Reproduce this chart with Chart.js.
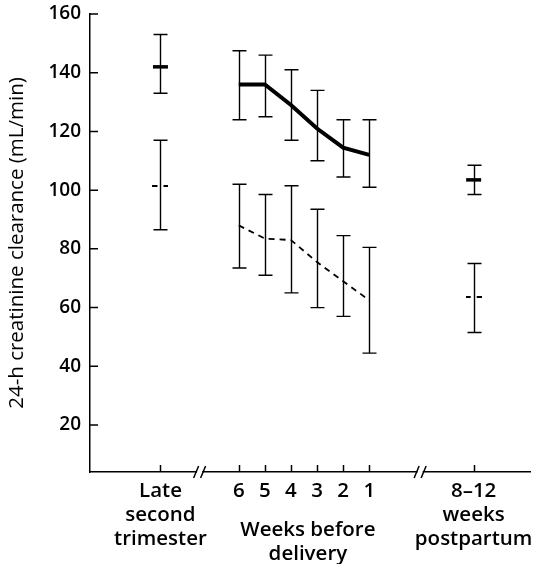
<!DOCTYPE html>
<html>
<head>
<meta charset="utf-8">
<title>24-h creatinine clearance</title>
<script src="https://cdn.jsdelivr.net/npm/chart.js@4.4.1/dist/chart.umd.min.js"></script>
<style>
  html, body { margin: 0; padding: 0; background: #fff; }
  #wrap { width: 541px; height: 564px; }
</style>
</head>
<body>
<div id="wrap"><canvas id="chart" width="541" height="564"></canvas></div>
<script>
// stages along the broken time axis
const stages = [['Late', 'second', 'trimester'], '6', '5', '4', '3', '2', '1', ['8–12', 'weeks', 'postpartum']]
const stageX = [0, 3, 4, 5, 6, 7, 8, 12]
const weeksTitle = ['Weeks before', 'delivery']
const yTicks = [20, 40, 60, 80, 100, 120, 140, 160]
const axisBreaks = [1.5, 9.95]

// upper group (solid line): mean, top and bottom of error bar
const meanSolid = [142, 136, 136, 129, 121, 114.5, 112, 103.5]
const highSolid = [153, 147.5, 146, 141, 134, 124, 124, 108.5]
const lowSolid = [133, 124, 125, 117, 110, 104.5, 101, 98.5]

// lower group (dashed line)
const meanDashed = [101.5, 88, 83.5, 83, 75.5, 69, 62.5, 63.5]
const highDashed = [117, 102, 98.5, 101.5, 93.5, 84.5, 80.5, 75]
const lowDashed = [86.5, 73.5, 71, 65, 60, 57, 44.5, 51.5]

const inner = [1, 2, 3, 4, 5, 6]   // weeks before delivery, joined by a line
const outer = [0, 7]               // isolated stages
const pts = (idx, arr) => idx.map(i => ({ x: stageX[i], y: arr[i] }))

const FONT = '"Open Sans", "Noto Sans", sans-serif'
Chart.defaults.font.family = FONT
Chart.defaults.color = '#000'

// short broken mean mark for the lower group
function dashMark() {
  const c = document.createElement('canvas')
  c.width = 16
  c.height = 2
  const g = c.getContext('2d')
  g.fillStyle = '#000'
  g.fillRect(0, 0, 5, 2)
  g.fillRect(11, 0, 5, 2)
  return c
}

const decor = {
  id: 'decor',
  afterDatasetsDraw(chart) {
    const { ctx, scales: { x, y } } = chart
    ctx.save()
    ctx.strokeStyle = '#000'
    ctx.lineWidth = 1.4
    for (const [lo, hi] of [[lowSolid, highSolid], [lowDashed, highDashed]]) {
      stageX.forEach((v, i) => {
        const px = Math.round(x.getPixelForValue(v)) + 0.5
        const top = y.getPixelForValue(hi[i])
        const bot = y.getPixelForValue(lo[i])
        ctx.beginPath()
        ctx.moveTo(px, top); ctx.lineTo(px, bot)
        ctx.moveTo(px - 7, top); ctx.lineTo(px + 7, top)
        ctx.moveTo(px - 7, bot); ctx.lineTo(px + 7, bot)
        ctx.stroke()
      })
    }
    ctx.restore()
  },
  afterDraw(chart) {
    const { ctx, scales: { x, y }, chartArea: a } = chart
    ctx.save()
    ctx.strokeStyle = '#000'
    ctx.lineWidth = 1.5
    // inward ticks
    ctx.beginPath()
    for (const v of yTicks) {
      const py = y.getPixelForValue(v)
      ctx.moveTo(a.left, py); ctx.lineTo(a.left + 8, py)
    }
    for (const v of stageX) {
      const px = Math.round(x.getPixelForValue(v)) + 0.5
      ctx.moveTo(px, a.bottom); ctx.lineTo(px, a.bottom - 7)
    }
    ctx.stroke()
    // axis breaks
    for (const b of axisBreaks) {
      const px = x.getPixelForValue(b)
      ctx.fillStyle = '#fff'
      ctx.fillRect(px - 2.5, a.bottom - 2, 5, 4)
      ctx.beginPath()
      ctx.moveTo(px - 6, a.bottom + 6); ctx.lineTo(px - 1, a.bottom - 6)
      ctx.moveTo(px + 1, a.bottom + 6); ctx.lineTo(px + 6, a.bottom - 6)
      ctx.stroke()
    }
    // group label under the weeks
    ctx.fillStyle = '#000'
    ctx.font = '600 20.5px ' + FONT
    ctx.textAlign = 'center'
    ctx.textBaseline = 'middle'
    const cx = x.getPixelForValue(5.65)
    ctx.fillText(weeksTitle[0], cx, 530)
    ctx.fillText(weeksTitle[1], cx, 554)
    ctx.restore()
  }
}

new Chart(document.getElementById('chart'), {
  type: 'line',
  data: {
    datasets: [
      {
        data: pts(inner, meanSolid),
        borderColor: '#000',
        borderWidth: 4,
        pointRadius: 0,
        tension: 0
      },
      {
        data: pts(inner, meanDashed),
        borderColor: '#000',
        borderWidth: 1.8,
        borderDash: [6, 5],
        pointRadius: 0,
        tension: 0
      },
      {
        data: pts(outer, meanSolid),
        showLine: false,
        pointStyle: 'line',
        pointRadius: 7.5,
        pointBorderWidth: 3.5,
        borderColor: '#000'
      },
      {
        data: pts(outer, meanDashed),
        showLine: false,
        pointStyle: dashMark(),
        pointRadius: 8,
        borderColor: '#000'
      }
    ]
  },
  options: {
    responsive: false,
    animation: false,
    devicePixelRatio: 1,
    layout: { padding: { top: 14, right: 0, left: 0, bottom: 0 } },
    plugins: { legend: { display: false }, tooltip: { enabled: false } },
    scales: {
      x: {
        type: 'linear',
        min: -2.7,
        max: 14.16,
        grid: { display: false, drawTicks: false },
        border: { display: true, color: '#000', width: 1.5 },
        afterBuildTicks: (s) => { s.ticks = stageX.map(v => ({ value: v })) },
        afterFit: (s) => { s.height = 92; s.paddingLeft = 0; s.paddingRight = 0 },
        ticks: {
          autoSkip: false,
          maxRotation: 0,
          padding: 7,
          font: { size: 20.5, weight: '600', lineHeight: 1.18 },
          callback: (v) => stages[stageX.indexOf(v)] ?? ''
        }
      },
      y: {
        min: 4,
        max: 160,
        grid: { display: false, drawTicks: false },
        border: { display: true, color: '#000', width: 1.5 },
        afterBuildTicks: (s) => { s.ticks = yTicks.map(v => ({ value: v })) },
        afterFit: (s) => { s.width = 90; s.paddingTop = 0; s.paddingBottom = 0 },
        ticks: {
          padding: 9,
          font: { size: 19, weight: '600' }
        },
        title: {
          display: true,
          text: '24-h creatinine clearance (mL/min)',
          font: { size: 20.5, weight: '400' },
          padding: { top: 5, bottom: 0 }
        }
      }
    }
  },
  plugins: [decor]
})
</script>
</body>
</html>
